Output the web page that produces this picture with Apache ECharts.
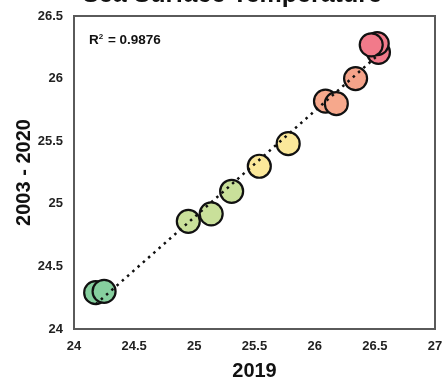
<!DOCTYPE html>
<html><head><meta charset="utf-8">
<script src="https://cdn.jsdelivr.net/npm/echarts@6/dist/echarts.min.js"></script>
<style>html,body{margin:0;padding:0;background:#fff}#c{width:442px;height:379px}</style>
</head><body><div id="c"></div>
<script>
// Data (x = 2019, y = 2003-2020 mean SST)
var xVals = [24.18, 24.25, 24.95, 25.14, 25.31, 25.54, 25.78, 26.09, 26.18, 26.34, 26.53, 26.52, 26.47];
var yVals = [24.29, 24.30, 24.86, 24.92, 25.10, 25.30, 25.48, 25.82, 25.80, 26.00, 26.21, 26.28, 26.27];
var pointColors = ['#86CF9E', '#86CF9E', '#C9E09A', '#C9E09A', '#C9E09A', '#FBE89A', '#FBE89A', '#F6A88C', '#F6A88C', '#F5A38A', '#F27A8A', '#F27A8A', '#F27A8A'];
var xTicks = [24, 24.5, 25, 25.5, 26, 26.5, 27];
var yTicks = [24, 24.5, 25, 25.5, 26, 26.5];
var titleText = 'Sea Surface Temperature';

// least-squares trendline from the data
var n = xVals.length, sx = 0, sy = 0, sxx = 0, sxy = 0;
for (var i = 0; i < n; i++) { sx += xVals[i]; sy += yVals[i]; sxx += xVals[i]*xVals[i]; sxy += xVals[i]*yVals[i]; }
var slope = (n*sxy - sx*sy) / (n*sxx - sx*sx);
var icpt = (sy - slope*sx) / n;
var xmin = Math.min.apply(null, xVals), xmax = Math.max.apply(null, xVals);
var trend = [[xmin, icpt + slope*xmin], [xmax, icpt + slope*xmax]];

var pts = xVals.map(function(x, i){ return {value:[x, yVals[i]], itemStyle:{color: pointColors[i]}}; });

var font = 'Liberation Sans, Arial, sans-serif';
var chart = echarts.init(document.getElementById('c'), null, {renderer:'canvas'});
chart.setOption({
  animation: false,
  backgroundColor: '#fff',
  title: { text: titleText, left: 227, textAlign: 'center', top: -22,
    textStyle: { fontFamily: font, fontWeight: 'bold', fontSize: 25, color: '#111' } },
  grid: { left: 74, right: 7, top: 16, bottom: 50, outerBoundsMode: 'none', containLabel: false,
    show: true, borderColor: '#5a5a5a', borderWidth: 2, backgroundColor: 'transparent' },
  xAxis: { type: 'value', min: 24, max: 27, interval: 0.5,
    name: '2019', nameLocation: 'middle', nameGap: 32, nameMoveOverlap: false,
    nameTextStyle: { fontFamily: font, fontWeight: 'bold', fontSize: 20, color: '#111' },
    axisLine: { show: true, onZero: false, lineStyle: { color: '#5a5a5a', width: 2 } },
    axisTick: { show: false }, splitLine: { show: false },
    axisLabel: { fontFamily: font, fontWeight: 'bold', fontSize: 13, color: '#222', margin: 11,
      formatter: function(v){ return xTicks.indexOf(v) >= 0 ? String(v) : ''; } } },
  yAxis: { type: 'value', min: 24, max: 26.5, interval: 0.5,
    name: '2003 - 2020', nameLocation: 'middle', nameGap: 40, nameMoveOverlap: false,
    nameTextStyle: { fontFamily: font, fontWeight: 'bold', fontSize: 20, color: '#111' },
    axisLine: { show: true, onZero: false, lineStyle: { color: '#5a5a5a', width: 2 } },
    axisTick: { show: false }, splitLine: { show: false },
    axisLabel: { fontFamily: font, fontWeight: 'bold', fontSize: 13, color: '#222', margin: 11,
      formatter: function(v){ return yTicks.indexOf(v) >= 0 ? String(v) : ''; } } },
  graphic: [{ type: 'text', left: 89, top: 33, z: 100,
    style: { text: '{a|R}{s|2}{a| = 0.9876}', fontFamily: font,
      rich: { a: { fontFamily: font, fontWeight: 'bold', fontSize: 13.5, fill: '#111', color: '#111', verticalAlign: 'bottom' },
              s: { fontFamily: font, fontWeight: 'bold', fontSize: 8, fill: '#111', color: '#111', verticalAlign: 'top', padding: [0,1,6,0] } } } }],
  series: [
    { type: 'scatter', data: pts, symbolSize: 23, z: 2,
      itemStyle: { borderColor: '#111', borderWidth: 2.2, opacity: 1 } },
    { type: 'line', data: trend, symbol: 'none', z: 5, silent: true,
      lineStyle: { color: '#111', width: 2.5, type: [2.5, 4.5] } }
  ]
});
</script></body></html>
